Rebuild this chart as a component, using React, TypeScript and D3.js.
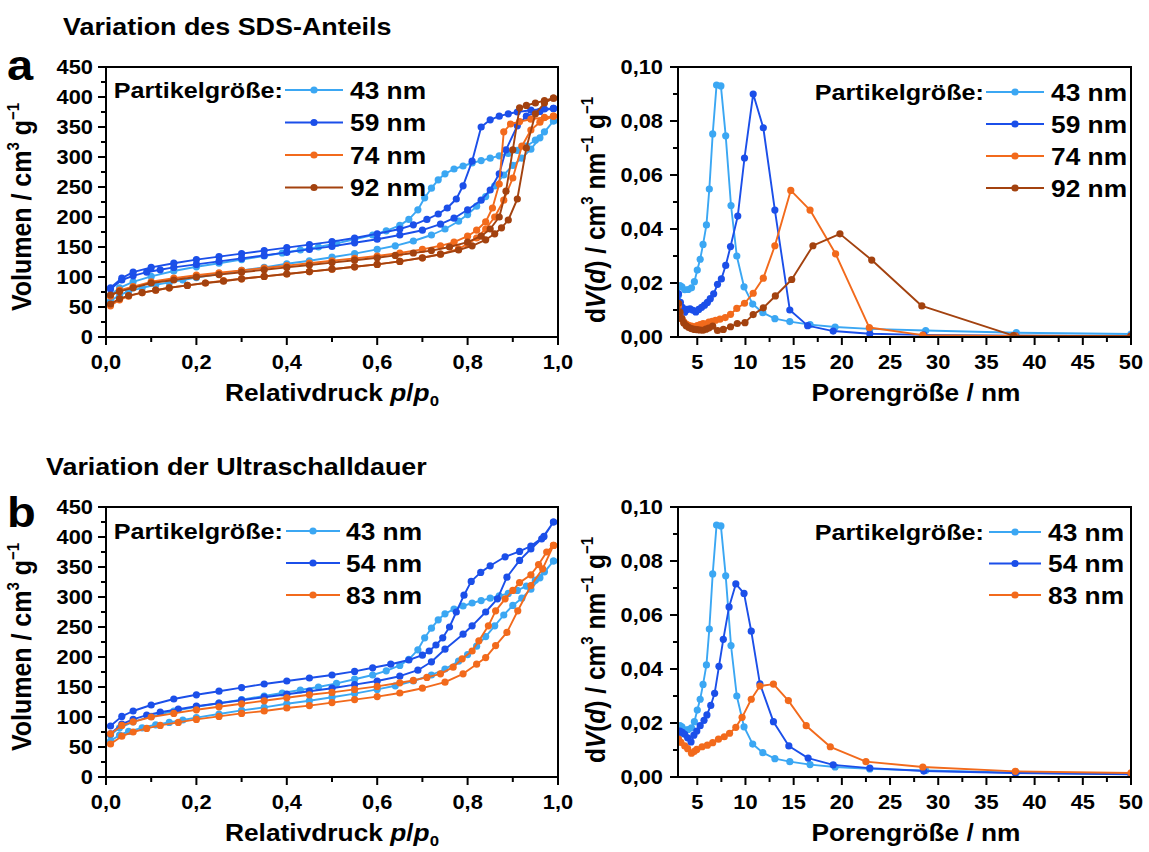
import React from "react";
import * as d3 from "d3";

const W = 1149;
const H = 852;
const FONT = "'Liberation Sans', Arial, Helvetica, sans-serif";
const SX = 1.12; // the lettering in the figure runs a bit wider than Arial

const COL_43 = "#3ba7f3";
const COL_BLUE = "#1b4fe9";
const COL_ORANGE = "#f26a1c";
const COL_BROWN = "#a3420f";

// ---------- isotherms: relative pressure p/p0 and volume (cm3/g)
// 43 nm (same sample in a and b)
const p43Ads = [0.01, 0.03, 0.05, 0.08, 0.11, 0.14, 0.17, 0.2, 0.25, 0.3, 0.35, 0.4, 0.45, 0.5, 0.55, 0.6, 0.64, 0.68, 0.72, 0.75, 0.78, 0.8, 0.82, 0.84, 0.86, 0.88, 0.9, 0.92, 0.94, 0.96, 0.99];
const v43Ads = [60, 70, 76, 82, 87, 91, 95, 99, 105, 111, 116, 122, 127, 133, 139, 146, 152, 160, 170, 180, 193, 204, 218, 234, 252, 270, 286, 298, 313, 332, 360];
const p43Des = [0.99, 0.97, 0.95, 0.93, 0.91, 0.89, 0.87, 0.85, 0.83, 0.81, 0.79, 0.77, 0.75, 0.735, 0.72, 0.705, 0.69, 0.67, 0.65, 0.62, 0.59, 0.55, 0.51, 0.47, 0.43, 0.39, 0.35, 0.3, 0.25, 0.2, 0.15, 0.1, 0.06, 0.03, 0.01];
const v43Des = [360, 342, 328, 318, 311, 306, 302, 298, 294, 290, 285, 280, 272, 262, 248, 232, 212, 196, 186, 177, 170, 163, 156, 150, 145, 140, 135, 129, 123, 117, 110, 101, 92, 82, 70];

// 59 nm
const p59Ads = [0.01, 0.035, 0.06, 0.09, 0.12, 0.15, 0.2, 0.25, 0.3, 0.35, 0.4, 0.45, 0.5, 0.55, 0.6, 0.65, 0.7, 0.74, 0.77, 0.8, 0.83, 0.85, 0.87, 0.885, 0.91, 0.93, 0.96, 0.99];
const v59Ads = [80, 95, 102, 108, 112, 116, 121, 126, 131, 136, 141, 146, 151, 157, 163, 170, 178, 188, 198, 212, 228, 245, 272, 312, 352, 368, 376, 381];
const p59Des = [0.99, 0.97, 0.94, 0.91, 0.89, 0.87, 0.85, 0.83, 0.81, 0.79, 0.775, 0.755, 0.735, 0.71, 0.68, 0.65, 0.6, 0.55, 0.5, 0.45, 0.4, 0.35, 0.3, 0.25, 0.2, 0.15, 0.1, 0.06, 0.035, 0.01];
const v59Des = [381, 380, 378, 375, 372, 368, 362, 350, 293, 252, 230, 215, 205, 196, 187, 180, 172, 165, 159, 154, 149, 144, 139, 134, 129, 123, 116, 108, 98, 82];

// 74 nm
const p74Ads = [0.01, 0.03, 0.05, 0.08, 0.11, 0.14, 0.18, 0.22, 0.26, 0.3, 0.35, 0.4, 0.45, 0.5, 0.55, 0.6, 0.65, 0.7, 0.74, 0.78, 0.8, 0.82, 0.84, 0.86, 0.88, 0.9, 0.92, 0.94, 0.96, 0.99];
const v74Ads = [52, 62, 68, 74, 78, 82, 86, 90, 94, 97, 101, 105, 109, 113, 117, 121, 126, 132, 138, 147, 155, 165, 180, 200, 228, 265, 318, 345, 358, 368];
const p74Des = [0.99, 0.97, 0.94, 0.915, 0.895, 0.88, 0.87, 0.855, 0.84, 0.82, 0.8, 0.77, 0.74, 0.7, 0.65, 0.6, 0.55, 0.5, 0.45, 0.4, 0.35, 0.3, 0.25, 0.2, 0.15, 0.1, 0.06, 0.03, 0.01];
const v74Des = [368, 366, 363, 359, 355, 342, 255, 215, 192, 178, 168, 158, 152, 146, 140, 135, 131, 127, 123, 119, 115, 111, 107, 103, 98, 92, 84, 78, 68];

// 92 nm
const p92Ads = [0.01, 0.03, 0.05, 0.08, 0.11, 0.14, 0.18, 0.22, 0.26, 0.3, 0.35, 0.4, 0.45, 0.5, 0.55, 0.6, 0.65, 0.7, 0.74, 0.78, 0.81, 0.84, 0.86, 0.875, 0.89, 0.91, 0.93, 0.95, 0.97, 0.99];
const v92Ads = [55, 64, 69, 74, 78, 82, 86, 90, 93, 97, 101, 105, 109, 113, 117, 121, 126, 132, 138, 145, 152, 162, 172, 182, 195, 230, 315, 372, 390, 398];
const p92Des = [0.99, 0.97, 0.95, 0.93, 0.915, 0.9, 0.885, 0.87, 0.85, 0.83, 0.8, 0.76, 0.72, 0.68, 0.64, 0.6, 0.55, 0.5, 0.45, 0.4, 0.35, 0.3, 0.25, 0.2, 0.15, 0.1, 0.06, 0.03, 0.01];
const v92Des = [398, 394, 390, 386, 382, 312, 243, 200, 180, 168, 158, 150, 144, 140, 136, 132, 128, 124, 120, 116, 112, 108, 104, 100, 95, 90, 82, 76, 70];

// 54 nm
const p54Ads = [0.01, 0.035, 0.06, 0.09, 0.12, 0.16, 0.2, 0.25, 0.3, 0.35, 0.4, 0.45, 0.5, 0.55, 0.6, 0.65, 0.69, 0.72, 0.75, 0.79, 0.81, 0.84, 0.866, 0.887, 0.915, 0.94, 0.964, 0.99];
const v54Ads = [72, 88, 96, 103, 108, 113, 118, 123, 128, 133, 138, 143, 148, 154, 160, 168, 178, 192, 213, 238, 252, 275, 297, 333, 361, 380, 397, 425];
const p54Des = [0.99, 0.969, 0.94, 0.915, 0.883, 0.85, 0.829, 0.808, 0.792, 0.775, 0.76, 0.745, 0.73, 0.715, 0.7, 0.67, 0.63, 0.59, 0.55, 0.5, 0.45, 0.4, 0.35, 0.3, 0.25, 0.2, 0.15, 0.1, 0.06, 0.035, 0.01];
const v54Des = [425, 401, 385, 376, 367, 352, 341, 326, 303, 275, 250, 232, 220, 210, 203, 195, 188, 182, 176, 170, 165, 160, 155, 149, 143, 137, 130, 120, 110, 101, 85];

// 83 nm
const p83Ads = [0.01, 0.035, 0.06, 0.09, 0.12, 0.16, 0.2, 0.25, 0.3, 0.35, 0.4, 0.45, 0.5, 0.55, 0.6, 0.65, 0.7, 0.75, 0.79, 0.82, 0.84, 0.862, 0.887, 0.911, 0.94, 0.966, 0.99];
const v83Ads = [55, 68, 75, 81, 86, 91, 96, 101, 106, 110, 115, 119, 124, 129, 134, 140, 148, 158, 172, 188, 199, 219, 241, 277, 319, 347, 386];
const p83Des = [0.99, 0.975, 0.957, 0.94, 0.915, 0.9, 0.883, 0.862, 0.846, 0.825, 0.81, 0.788, 0.768, 0.74, 0.71, 0.68, 0.65, 0.6, 0.55, 0.5, 0.45, 0.4, 0.35, 0.3, 0.25, 0.2, 0.15, 0.1, 0.06, 0.035, 0.01];
const v83Des = [386, 375, 354, 337, 324, 311, 297, 277, 252, 227, 210, 197, 183, 172, 166, 161, 157, 151, 146, 141, 137, 132, 127, 122, 117, 112, 106, 100, 92, 86, 72];

// ---------- pore size distributions: d (nm) and dV(d)
const d43 = [3.05, 3.2, 3.4, 3.7, 4.05, 4.4, 4.7, 5.0, 5.3, 5.6, 5.95, 6.25, 6.6, 7.0, 7.45, 7.95, 8.5, 9.1, 9.85, 10.75, 11.8, 13.05, 14.6, 16.7, 19.3, 22.9, 28.7, 38.1, 50];
const dv43 = [0.0155, 0.019, 0.0186, 0.0175, 0.0176, 0.0182, 0.0205, 0.0248, 0.0288, 0.0343, 0.0415, 0.0548, 0.0752, 0.0933, 0.093, 0.0745, 0.0487, 0.03, 0.0186, 0.0122, 0.009, 0.0068, 0.0057, 0.0046, 0.0037, 0.003, 0.0024, 0.0016, 0.0011];

const d59 = [3.05, 3.25, 3.45, 3.7, 3.95, 4.25, 4.55, 4.85, 5.15, 5.45, 5.75, 6.05, 6.35, 6.7, 7.1, 7.5, 7.95, 8.45, 9.2, 9.9, 10.8, 11.85, 13.05, 14.6, 16.45, 19.1, 22.9, 28.5, 38, 50];
const dv59 = [0.016, 0.0128, 0.011, 0.0092, 0.0102, 0.0104, 0.0099, 0.0093, 0.0102, 0.011, 0.0118, 0.0128, 0.0142, 0.016, 0.0195, 0.0215, 0.0265, 0.0335, 0.0448, 0.0663, 0.09, 0.0775, 0.047, 0.01, 0.0042, 0.0022, 0.0012, 0.0008, 0.0005, 0.0004];

const d74 = [3.05, 3.2, 3.4, 3.6, 3.85, 4.1, 4.4, 4.7, 5.0, 5.3, 5.6, 5.9, 6.2, 6.55, 6.9, 7.35, 7.9, 8.45, 9.1, 9.9, 10.8, 11.85, 13.05, 14.7, 16.7, 19.35, 22.85, 28.4, 38, 50];
const dv74 = [0.0115, 0.0085, 0.0068, 0.0056, 0.0048, 0.0043, 0.004, 0.0038, 0.0042, 0.0046, 0.005, 0.0048, 0.0055, 0.0058, 0.0062, 0.0066, 0.0072, 0.0084, 0.0106, 0.0125, 0.0162, 0.0218, 0.0338, 0.0543, 0.047, 0.0308, 0.0035, 0.0007, 0.0004, 0.0003];

const d92 = [3.05, 3.2, 3.4, 3.6, 3.85, 4.1, 4.4, 4.7, 5.0, 5.3, 5.6, 5.9, 6.2, 6.6, 7.1, 7.7, 8.45, 9.15, 9.95, 10.8, 11.85, 13.1, 14.8, 17.0, 19.8, 23.1, 28.3, 37.8, 50];
const dv92 = [0.0125, 0.0092, 0.0068, 0.0052, 0.0042, 0.0036, 0.0031, 0.0028, 0.0027, 0.0026, 0.0025, 0.0029, 0.0033, 0.004, 0.0024, 0.0028, 0.0038, 0.005, 0.0053, 0.0083, 0.0108, 0.0152, 0.0213, 0.0338, 0.0382, 0.0285, 0.0115, 0.0005, 0.0003];

const d54 = [3.05, 3.2, 3.45, 3.7, 4.0, 4.35, 4.65, 4.95, 5.3, 5.7, 6.0, 6.4, 6.8, 7.25, 7.7, 8.3, 9.0, 9.85, 10.6, 11.5, 12.9, 14.5, 16.5, 19.1, 22.9, 28.5, 38, 50];
const dv54 = [0.0165, 0.017, 0.0165, 0.0158, 0.0145, 0.013, 0.0155, 0.017, 0.019, 0.021, 0.023, 0.0265, 0.031, 0.041, 0.051, 0.063, 0.0715, 0.068, 0.054, 0.0345, 0.0205, 0.0115, 0.007, 0.0045, 0.0033, 0.0022, 0.0015, 0.001];

const d83 = [3.05, 3.3, 3.7, 4.0, 4.4, 4.7, 4.95, 5.5, 6.05, 6.6, 7.2, 7.8, 8.35, 9.0, 9.65, 10.6, 11.5, 12.9, 14.45, 16.3, 18.8, 22.5, 28.4, 38, 50];
const dv83 = [0.014, 0.0128, 0.0115, 0.0105, 0.0088, 0.0095, 0.0102, 0.0112, 0.0118, 0.0127, 0.014, 0.0149, 0.0162, 0.0184, 0.0221, 0.0288, 0.0337, 0.0344, 0.0283, 0.019, 0.0112, 0.0057, 0.0037, 0.0021, 0.0015];

// ---------- ticks
const isoXTicks = [0, 0.2, 0.4, 0.6, 0.8, 1.0];
const isoXMinor = [0.1, 0.3, 0.5, 0.7, 0.9];
const isoYTicks = [0, 50, 100, 150, 200, 250, 300, 350, 400, 450];
const isoYMinor = [25, 75, 125, 175, 225, 275, 325, 375, 425];
const psdXTicks = [5, 10, 15, 20, 25, 30, 35, 40, 45, 50];
const psdXMinor = [7.5, 12.5, 17.5, 22.5, 27.5, 32.5, 37.5, 42.5, 47.5];
const psdYTicks = [0, 0.02, 0.04, 0.06, 0.08, 0.1];
const psdYMinor = [0.01, 0.03, 0.05, 0.07, 0.09];

const labelsA = ["43 nm", "59 nm", "74 nm", "92 nm"];
const colorsA = [COL_43, COL_BLUE, COL_ORANGE, COL_BROWN];
const labelsB = ["43 nm", "54 nm", "83 nm"];
const colorsB = [COL_43, COL_BLUE, COL_ORANGE];

const loop = (pa: number[], va: number[], pd: number[], vd: number[]) =>
  d3.zip(pa, va).concat(d3.zip(pd, vd)) as [number, number][];

const isoA = [loop(p43Ads, v43Ads, p43Des, v43Des), loop(p59Ads, v59Ads, p59Des, v59Des), loop(p74Ads, v74Ads, p74Des, v74Des), loop(p92Ads, v92Ads, p92Des, v92Des)];
const isoB = [loop(p43Ads, v43Ads, p43Des, v43Des), loop(p54Ads, v54Ads, p54Des, v54Des), loop(p83Ads, v83Ads, p83Des, v83Des)];
const psdA = [d3.zip(d43, dv43), d3.zip(d59, dv59), d3.zip(d74, dv74), d3.zip(d92, dv92)] as [number, number][][];
const psdB = [d3.zip(d43, dv43), d3.zip(d54, dv54), d3.zip(d83, dv83)] as [number, number][][];

const PLOT_H = 270;
const TOP_A = 67;
const TOP_B = 507;
const L_X0 = 106, L_X1 = 558;
const R_X0 = 678, R_X1 = 1131;

const comma = (f: string) => (v: number) => d3.format(f)(v).replace(".", ",");

const Txt = ({ x, y, size, anchor = "start", rot = 0, children }: any) => (
  <g transform={`translate(${x},${y}) scale(${SX},1)${rot ? ` rotate(${rot})` : ""}`}>
    <text textAnchor={anchor} fontSize={size} fontWeight="bold" fontFamily={FONT} fill="#000">
      {children}
    </text>
  </g>
);

const Series = ({ pts, x, y, color }: any) => {
  const line = d3.line<[number, number]>().x((d) => x(d[0])).y((d) => y(d[1]));
  return (
    <g>
      <path d={line(pts) || ""} fill="none" stroke={color} strokeWidth={1.9} strokeLinejoin="round" />
      {pts.map((d: [number, number], i: number) => (
        <circle key={i} cx={x(d[0])} cy={y(d[1])} r={3.6} fill={color} />
      ))}
    </g>
  );
};

const Axes = ({ x, y, xt, xm, yt, ym, xfmt, yfmt, yLabelX }: any) => {
  const [x0, x1] = x.range();
  const [y0, y1] = y.range();
  return (
    <g>
      {xt.map((v: number) => (
        <g key={"xt" + v}>
          <line x1={x(v)} x2={x(v)} y1={y0} y2={y0 + 8} stroke="#000" strokeWidth={2} />
          <Txt x={x(v)} y={y0 + 32} size={19.5} anchor="middle">{xfmt(v)}</Txt>
        </g>
      ))}
      {xm.map((v: number) => (
        <line key={"xm" + v} x1={x(v)} x2={x(v)} y1={y0} y2={y0 + 5} stroke="#000" strokeWidth={2} />
      ))}
      {yt.map((v: number) => (
        <g key={"yt" + v}>
          <line x1={x0 - 8} x2={x0} y1={y(v)} y2={y(v)} stroke="#000" strokeWidth={2} />
          <Txt x={yLabelX} y={y(v) + 7} size={19.5} anchor="end">{yfmt(v)}</Txt>
        </g>
      ))}
      {ym.map((v: number) => (
        <line key={"ym" + v} x1={x0 - 5} x2={x0} y1={y(v)} y2={y(v)} stroke="#000" strokeWidth={2} />
      ))}
      <rect x={x0} y={y1} width={x1 - x0} height={y0 - y1} fill="none" stroke="#000" strokeWidth={2} />
    </g>
  );
};

const Legend = ({ textEnd, lx1, lx2, labelX, top, step, labels, colors }: any) => (
  <g>
    <Txt x={textEnd} y={top + 8} size={22.5} anchor="end">Partikelgröße:</Txt>
    {labels.map((lab: string, i: number) => {
      const yy = top + i * step;
      return (
        <g key={lab}>
          <line x1={lx1} x2={lx2} y1={yy} y2={yy} stroke={colors[i]} strokeWidth={2.2} />
          <circle cx={(lx1 + lx2) / 2} cy={yy} r={3.6} fill={colors[i]} />
          <Txt x={labelX} y={yy + 8.5} size={23.5}>{lab}</Txt>
        </g>
      );
    })}
  </g>
);

const IsoPanel = ({ top, data, colors, labels, legend }: any) => {
  const x = d3.scaleLinear().domain([0, 1]).range([L_X0, L_X1]);
  const y = d3.scaleLinear().domain([0, 450]).range([top + PLOT_H, top]);
  return (
    <g>
      {data.map((pts: any, i: number) => (
        <Series key={i} pts={pts} x={x} y={y} color={colors[i]} />
      ))}
      <Axes x={x} y={y} xt={isoXTicks} xm={isoXMinor} yt={isoYTicks} ym={isoYMinor}
        xfmt={comma(".1f")} yfmt={(v: number) => String(v)} yLabelX={L_X0 - 13} />
      <Legend {...legend} labels={labels} colors={colors} />
      <Txt x={(L_X0 + L_X1) / 2} y={top + PLOT_H + 64} size={23.5} anchor="middle">
        Relativdruck <tspan fontStyle="italic">p</tspan>/<tspan fontStyle="italic">p</tspan>
        <tspan fontSize={15} dy={5}>0</tspan>
      </Txt>
      <Txt x={31} y={top + 140} size={25} anchor="middle" rot={-90}>
        Volumen / cm<tspan fontSize={15} dy={-11}>3</tspan>
        <tspan dy={11}> g</tspan><tspan fontSize={15} dy={-11}>−1</tspan>
      </Txt>
    </g>
  );
};

const PsdPanel = ({ top, data, colors, labels, legend }: any) => {
  const x = d3.scaleLinear().domain([3, 50]).range([R_X0, R_X1]);
  const y = d3.scaleLinear().domain([0, 0.1]).range([top + PLOT_H, top]);
  return (
    <g>
      <defs>
        <clipPath id={"clip" + top}>
          <rect x={R_X0} y={top} width={R_X1 - R_X0} height={PLOT_H} />
        </clipPath>
      </defs>
      <g clipPath={`url(#clip${top})`}>
        {data.map((pts: any, i: number) => (
          <Series key={i} pts={pts} x={x} y={y} color={colors[i]} />
        ))}
      </g>
      <Axes x={x} y={y} xt={psdXTicks} xm={psdXMinor} yt={psdYTicks} ym={psdYMinor}
        xfmt={(v: number) => String(v)} yfmt={comma(".2f")} yLabelX={R_X0 - 15} />
      <Legend {...legend} labels={labels} colors={colors} />
      <Txt x={916} y={top + PLOT_H + 64} size={23.5} anchor="middle">Porengröße / nm</Txt>
      <Txt x={605} y={top + 143} size={24.5} anchor="middle" rot={-90}>
        d<tspan fontStyle="italic">V</tspan>(<tspan fontStyle="italic">d</tspan>) / cm
        <tspan fontSize={15} dy={-11}>3</tspan>
        <tspan dy={11}> nm</tspan><tspan fontSize={15} dy={-11}>−1</tspan>
        <tspan dy={11}> g</tspan><tspan fontSize={15} dy={-11}>−1</tspan>
      </Txt>
    </g>
  );
};

export default function App() {
  return (
    <svg width={W} height={H} viewBox={`0 0 ${W} ${H}`}
      style={{ position: "absolute", left: 0, top: 0, background: "#fff" }}>
      <rect width={W} height={H} fill="#fff" />
      <Txt x={63} y={35} size={24}>Variation des SDS-Anteils</Txt>
      <Txt x={7} y={80} size={42}>a</Txt>
      <Txt x={46} y={475} size={24}>Variation der Ultraschalldauer</Txt>
      <Txt x={7} y={527} size={42}>b</Txt>

      <IsoPanel top={TOP_A} data={isoA} colors={colorsA} labels={labelsA}
        legend={{ textEnd: 283, lx1: 285, lx2: 343, labelX: 350, top: 90, step: 32.5 }} />
      <PsdPanel top={TOP_A} data={psdA} colors={colorsA} labels={labelsA}
        legend={{ textEnd: 984, lx1: 986, lx2: 1044, labelX: 1051, top: 92, step: 32 }} />
      <IsoPanel top={TOP_B} data={isoB} colors={colorsB} labels={labelsB}
        legend={{ textEnd: 283, lx1: 286, lx2: 340, labelX: 346, top: 531, step: 32 }} />
      <PsdPanel top={TOP_B} data={psdB} colors={colorsB} labels={labelsB}
        legend={{ textEnd: 984, lx1: 989, lx2: 1041, labelX: 1048, top: 532, step: 31.5 }} />
    </svg>
  );
}
